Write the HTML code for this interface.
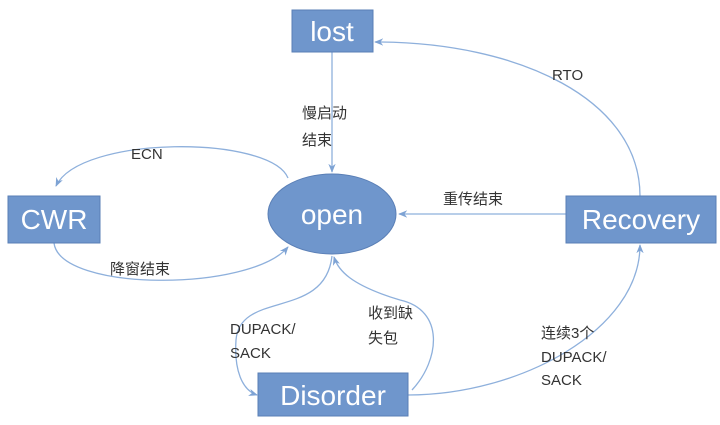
<!DOCTYPE html>
<html><head><meta charset="utf-8"><style>
body{margin:0;background:#fff;}
svg text{font-family:"Liberation Sans","Noto Sans CJK SC",sans-serif;}
</style></head><body>
<svg width="720" height="420" viewBox="0 0 720 420" xmlns="http://www.w3.org/2000/svg">
<defs>
<marker id="a" viewBox="0 0 10 10" refX="9" refY="5" markerWidth="7" markerHeight="7" orient="auto-start-reverse">
<path d="M0,1 L10,5 L0,9 L3,5 Z" fill="#7ea3d4"/>
</marker>
</defs>
<g fill="none" stroke="#8eb0dc" stroke-width="1.3" marker-end="url(#a)">
<path d="M332,52 L332,172"/>
<path d="M640,196 C640,100 520,42 375,42"/>
<path d="M566,214 L399,214"/>
<path d="M288,178 C270,135 80,135 56,186"/>
<path d="M54,243 C60,292 250,292 288,247"/>
<path d="M332,256 C325,320 240,290 236,340 C234,370 242,390 257,395"/>
<path d="M412,390 C440,360 445,310 400,300 C350,285 338,270 334,257"/>
<path d="M408,395 C520,395 640,330 640,245"/>
</g>
<g fill="#6f96cc" stroke="#5a7fb6" stroke-width="1">
<rect x="292" y="10" width="81" height="42"/>
<rect x="8" y="196" width="92" height="47"/>
<rect x="566" y="196" width="150" height="47"/>
<rect x="258" y="373" width="150" height="43"/>
<ellipse cx="332" cy="214" rx="64" ry="40"/>
</g>
<g fill="#fff" font-size="28" text-anchor="middle">
<text x="332" y="41">lost</text>
<text x="54" y="229">CWR</text>
<text x="641" y="229">Recovery</text>
<text x="333" y="405">Disorder</text>
<text x="332" y="224">open</text>
</g>
<g fill="#333" font-size="15">
<text x="302" y="118">慢启动</text>
<text x="302" y="145">结束</text>
<text x="131" y="159">ECN</text>
<text x="110" y="274">降窗结束</text>
<text x="443" y="204">重传结束</text>
<text x="552" y="80">RTO</text>
<text x="368" y="318">收到缺</text>
<text x="368" y="343">失包</text>
<text x="230" y="334">DUPACK/</text>
<text x="230" y="358">SACK</text>
<text x="541" y="338">连续3个</text>
<text x="541" y="362">DUPACK/</text>
<text x="541" y="385">SACK</text>
</g>
</svg>
</body></html>
